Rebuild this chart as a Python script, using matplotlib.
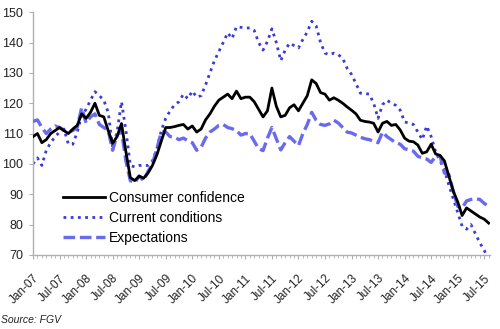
import numpy as np
import pandas as pd
import matplotlib
matplotlib.use("Agg")
import matplotlib.pyplot as plt

plt.rcParams["font.family"] = ["Liberation Sans", "DejaVu Sans"]

# Monthly index values, Jan-07 .. Aug-15
consumer_confidence = [
    109, 110, 107, 108, 110, 111, 112, 111, 110, 111.5, 112.7, 116.5,        # 2007
    115, 117, 120, 116, 115.5, 111, 106.8, 109, 113.3, 104, 95.5, 94.5,      # 2008
    96, 95.3, 97, 99.5, 103, 107.5, 112, 112, 112.3, 112.7, 113, 111.5,      # 2009
    112.5, 110.5, 111.5, 114.5, 116.5, 119, 121, 122, 123, 121.5, 124, 121.5,  # 2010
    122, 122, 120.5, 118, 115.5, 117.5, 125, 119, 115.5, 116, 118.5, 119.5,  # 2011
    117.5, 120, 122.5, 127.7, 126.5, 123.5, 123, 121, 121.8, 121, 120, 118.8,  # 2012
    117.7, 116.5, 114.4, 114, 113.8, 113.4, 110.5, 113.4, 114, 112.7, 113, 111.2,  # 2013
    108.5, 107.5, 107.3, 106.2, 103.5, 104, 106.5, 103.3, 102.8, 101, 96, 91,  # 2014
    87.5, 83, 85.5, 84.5, 83.5, 82.5, 81.8, 80.5,                           # 2015
]
current_conditions = [
    100, 102, 99.5, 104.5, 107, 109, 110.5, 111.5, 106.5, 106.5, 110.5, 116,
    118, 121, 123.8, 122.5, 121, 117, 105.5, 110.5, 120.5, 111, 99.5, 99,
    99.5, 99.5, 99.5, 101, 105, 111, 115, 117.5, 119.5, 120.5, 123, 121.5,
    124, 122, 122.5, 126, 130, 134, 137, 140, 143.2, 141.3, 145.2, 145,
    144.8, 144.8, 144, 140, 137.5, 140.4, 144.5, 140, 134, 137.5, 139.8, 139,
    138.2, 141, 143.5, 147, 145.5, 140, 136.5, 136, 136.5, 136, 134.8, 131.5,
    129.5, 126.5, 123.3, 123.2, 123, 120, 115, 119.5, 121, 120, 119.3, 117.7,
    113.8, 113.5, 113, 110.5, 108, 112.5, 109, 104, 101, 98, 93, 88.5,
    84, 79.5, 78.5, 80, 77, 74, 71.5, 68.5,
]
expectations = [
    114, 114.5, 112, 110, 111.5, 112.5, 112, 111, 110.5, 111, 112, 118.5,
    113.5, 115.5, 116.5, 113, 112, 111, 104.5, 109.5, 111, 101, 94.5, 93.8,
    96, 94.5, 97.5, 100, 105, 110.5, 110.5, 109, 108.8, 108, 108.5, 107.7,
    107, 104.5, 105.5, 108.5, 110.5, 111.5, 112.7, 113, 112, 111.6, 111, 109.5,
    110, 110, 107.5, 105, 104.4, 108.5, 112, 108.3, 104.6, 107, 109, 107.5,
    106, 110, 113, 117, 114.4, 113, 112.7, 113.2, 114.4, 113.5, 112, 110.5,
    110.2, 109.5, 108.8, 108.3, 108, 107.5, 107, 110.5, 109, 108, 107, 106.5,
    105, 104.7, 104.2, 102.5, 102, 101.6, 100.5, 102.5, 102.7, 97, 96.5, 91,
    86, 85.5, 87.8, 88.3, 88.5, 88.3, 87, 86,
]

dates = pd.date_range("2007-01-01", periods=len(consumer_confidence), freq="MS")
months = np.arange(len(dates))
tick_pos = months[::6]
tick_labels = [d.strftime("%b-%y") for d in dates[::6]]

fig = plt.figure(figsize=(5.0, 3.29), dpi=100)
ax = fig.add_axes([0.066, 0.225, 0.914, 0.738])

ax.plot(months, current_conditions, color="#3a3ad8", lw=2.0, ls=(0, (1, 1.6)),
        label="Current conditions", zorder=2)
ax.plot(months, expectations, color="#6a6aee", lw=2.4, ls=(0, (3.5, 1.4)),
        label="Expectations", zorder=3)
ax.plot(months, consumer_confidence, color="black", lw=2.0,
        label="Consumer confidence", zorder=4)

ax.set_ylim(70, 150)
ax.set_yticks(np.arange(70, 151, 10))
ax.set_xlim(0, 103.3)
ax.set_xticks(tick_pos)
ax.set_xticklabels(tick_labels, rotation=45, ha="right", rotation_mode="anchor")
ax.set_xticks(months, minor=True)

for side in ("top", "right"):
    ax.spines[side].set_visible(False)
for side in ("left", "bottom"):
    ax.spines[side].set_color("#b0b0b0")
    ax.spines[side].set_linewidth(1.0)

ax.tick_params(axis="y", length=3, color="#b0b0b0", labelsize=9, pad=4,
               labelcolor="#222222")
ax.tick_params(axis="x", which="major", length=3, color="#b0b0b0",
               labelsize=8.5, pad=9.5, labelcolor="#222222")
ax.tick_params(axis="x", which="minor", length=2, color="#b0b0b0")

handles, labels = ax.get_legend_handles_labels()
order = [2, 0, 1]
ax.legend([handles[i] for i in order], [labels[i] for i in order],
          loc="upper left", bbox_to_anchor=(0.054, 0.287), frameon=False,
          fontsize=10, handlelength=3.0, handletextpad=0.3, labelspacing=0.45,
          borderaxespad=0)

fig.text(0.002, 0.018, "Source: FGV", fontsize=7.5, style="italic",
         color="#222222")

fig.savefig("out.png", dpi=100)
